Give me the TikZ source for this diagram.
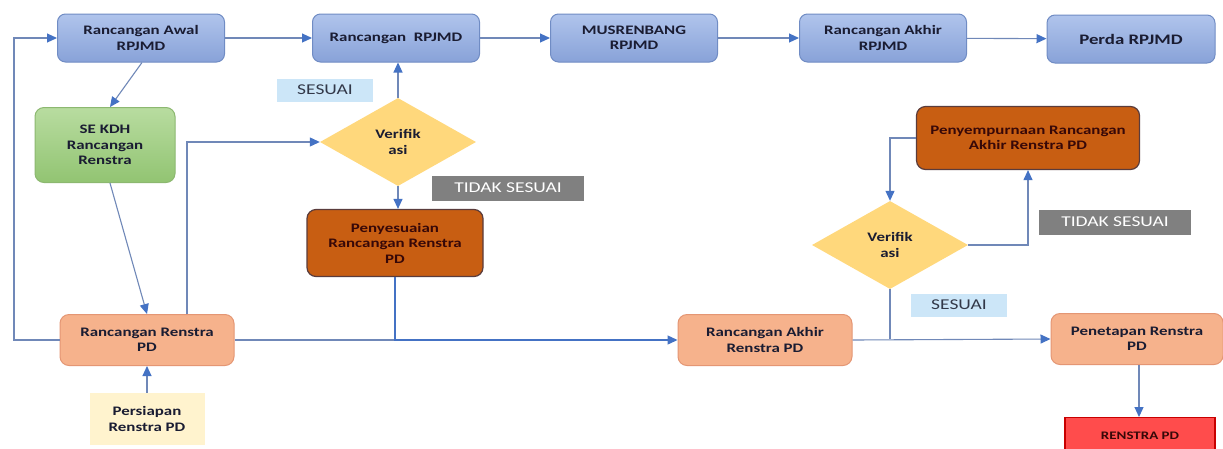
\documentclass[tikz,border=0pt]{standalone}
\usepackage{fontspec}
\setmainfont{Carlito}[FakeStretch=1.3]
\usetikzlibrary{shapes.geometric,arrows.meta}
\definecolor{bluefillT}{RGB}{176,196,236}
\definecolor{bluefillB}{RGB}{136,162,216}
\definecolor{blueedge}{RGB}{112,140,196}
\definecolor{greenT}{RGB}{184,220,160}
\definecolor{greenB}{RGB}{146,196,114}
\definecolor{greenedge}{RGB}{140,184,112}
\definecolor{darkorange}{RGB}{200,94,18}
\definecolor{darkorangeedge}{RGB}{90,60,60}
\definecolor{salmon}{RGB}{246,178,140}
\definecolor{salmonedge}{RGB}{228,150,116}
\definecolor{diamondfill}{RGB}{255,216,124}
\definecolor{paleyellow}{RGB}{255,243,206}
\definecolor{redfill}{RGB}{255,76,76}
\definecolor{rededge}{RGB}{200,0,0}
\definecolor{sesuaifill}{RGB}{204,230,248}
\definecolor{tidakfill}{RGB}{128,128,128}
\definecolor{linecol}{RGB}{112,136,184}
\definecolor{arrowblue}{RGB}{68,114,196}
\definecolor{txtdark}{RGB}{26,28,50}
\definecolor{txtred}{RGB}{55,8,8}
\begin{document}
\begin{tikzpicture}[x=1pt,y=-1pt,
  every node/.style={font=\fontsize{13}{15.5}\selectfont\bfseries, align=center, inner sep=0pt},
  bluebox/.style={rectangle, rounded corners=8pt, draw=blueedge, line width=1pt, top color=bluefillT, bottom color=bluefillB, text=txtdark, minimum width=167pt, minimum height=48pt},
  greenbox/.style={rectangle, rounded corners=9pt, draw=greenedge, line width=1pt, top color=greenT, bottom color=greenB, text=txtdark, minimum width=140pt, minimum height=75pt},
  orangebox/.style={rectangle, rounded corners=9pt, draw=darkorangeedge, line width=1.2pt, fill=darkorange, text=txtred},
  salmonbox/.style={rectangle, rounded corners=9pt, draw=salmonedge, line width=1pt, fill=salmon, text=txtdark, minimum width=174pt, minimum height=51pt},
  decision/.style={diamond, fill=diamondfill, text=txtdark, minimum width=156pt, minimum height=88pt},
  oklabel/.style={rectangle, fill=sesuaifill, text={rgb,255:red,50;green,56;blue,72}, font=\fontsize{15}{18}\selectfont, minimum width=96pt, minimum height=23pt},
  nolabel/.style={rectangle, fill=tidakfill, text=white, font=\fontsize{15}{18}\selectfont, minimum width=152pt, minimum height=25pt},
  conn/.style={draw=linecol, line width=1.1pt, -{Triangle[length=10pt,width=9pt,color=arrowblue]}},
  plain/.style={draw=linecol, line width=1.1pt}]
\useasboundingbox (0,0) rectangle (1223,448);
\clip (0,0) rectangle (1223,448);
\fill[white] (0,0) rectangle (1223,448);

% top row
\node[bluebox] (awal) at (141,38) {Rancangan Awal\\RPJMD};
\node[bluebox] (rrpjmd) at (396,38) {Rancangan\ \ RPJMD};
\node[bluebox] (mus) at (634,38) {MUSRENBANG\\RPJMD};
\node[bluebox] (akhir) at (883,38) {Rancangan Akhir\\RPJMD};
\node[bluebox, font=\fontsize{14.5}{17}\selectfont\bfseries, minimum width=168pt] (perda) at (1131,39) {Perda RPJMD};

% left part
\node[greenbox] (sekdh) at (105,145) {SE KDH\\Rancangan\\Renstra};
\node[salmonbox] (ren) at (147,340) {Rancangan Renstra\\PD};
\node[rectangle, fill=paleyellow, text=txtdark, minimum width=115pt, minimum height=52pt] (persiapan) at (147,419) {Persiapan\\Renstra PD};

% first verification
\node[decision] (ver1) at (398,142) {Verifik\\asi};
\node[orangebox, minimum width=176pt, minimum height=67pt] (pen1) at (395,243) {Penyesuaian\\Rancangan Renstra\\PD};
\node[oklabel] (ok1) at (325,90) {SESUAI};
\node[nolabel] (no1) at (508,188) {TIDAK SESUAI};

% right part
\node[salmonbox] (akhirren) at (765,340) {Rancangan Akhir\\Renstra PD};
\node[salmonbox, minimum width=172pt] (penet) at (1137,339) {Penetapan Renstra\\PD};
\node[rectangle, draw=rededge, line width=1.2pt, fill=redfill, text=txtred, font=\fontsize{11.5}{14}\selectfont\bfseries, minimum width=150pt, minimum height=46pt, anchor=north] (renstra) at (1140,417) {\raisebox{9pt}{RENSTRA PD}};
\node[orangebox, minimum width=223pt, minimum height=63pt] (penyemp) at (1028,138) {Penyempurnaan Rancangan\\Akhir Renstra PD};
\node[decision] (ver2) at (890,245) {Verifik\\asi};
\node[nolabel] (no2) at (1115,222) {TIDAK SESUAI};
\node[oklabel] (ok2) at (959,305) {SESUAI};

% connectors
\coordinate (cl) at (14,340);
\draw[conn] (ren.west) -- (cl) |- (awal.west);
\draw[conn] (awal) -- (rrpjmd);
\draw[conn] (rrpjmd) -- (mus);
\draw[conn] (mus) -- (akhir);
\draw[conn] (akhir) -- (perda);
\draw[conn] ([xshift=1pt]awal.south) -- ([xshift=5pt]sekdh.north);
\draw[conn] ([xshift=5pt]sekdh.south) -- (ren.north);
\draw[conn] (persiapan.north) -- (ren.south);
\draw[conn] ([xshift=40pt]ren.north) |- (ver1.west);
\draw[conn] (ver1.north) -- (ver1.north |- rrpjmd.south);
\draw[conn] (ver1.south) -- (ver1.south |- pen1.north);
\draw[plain] (ren.east) -- (pen1.south |- ren.east);
\draw[conn, draw=arrowblue, line width=1.4pt] (pen1.south) |- (akhirren.west);
\draw[conn] (akhirren.east) -- (penet.west);
\draw[plain] (ver2.south) -- (ver2.south |- penet.west);
\draw[conn] (penyemp.west) -| (ver2.north);
\draw[conn] (ver2.east) -| (penyemp.south);
\draw[conn] ([xshift=2pt]penet.south) -- ([xshift=2pt]penet.south |- renstra.north);
\end{tikzpicture}
\end{document}
